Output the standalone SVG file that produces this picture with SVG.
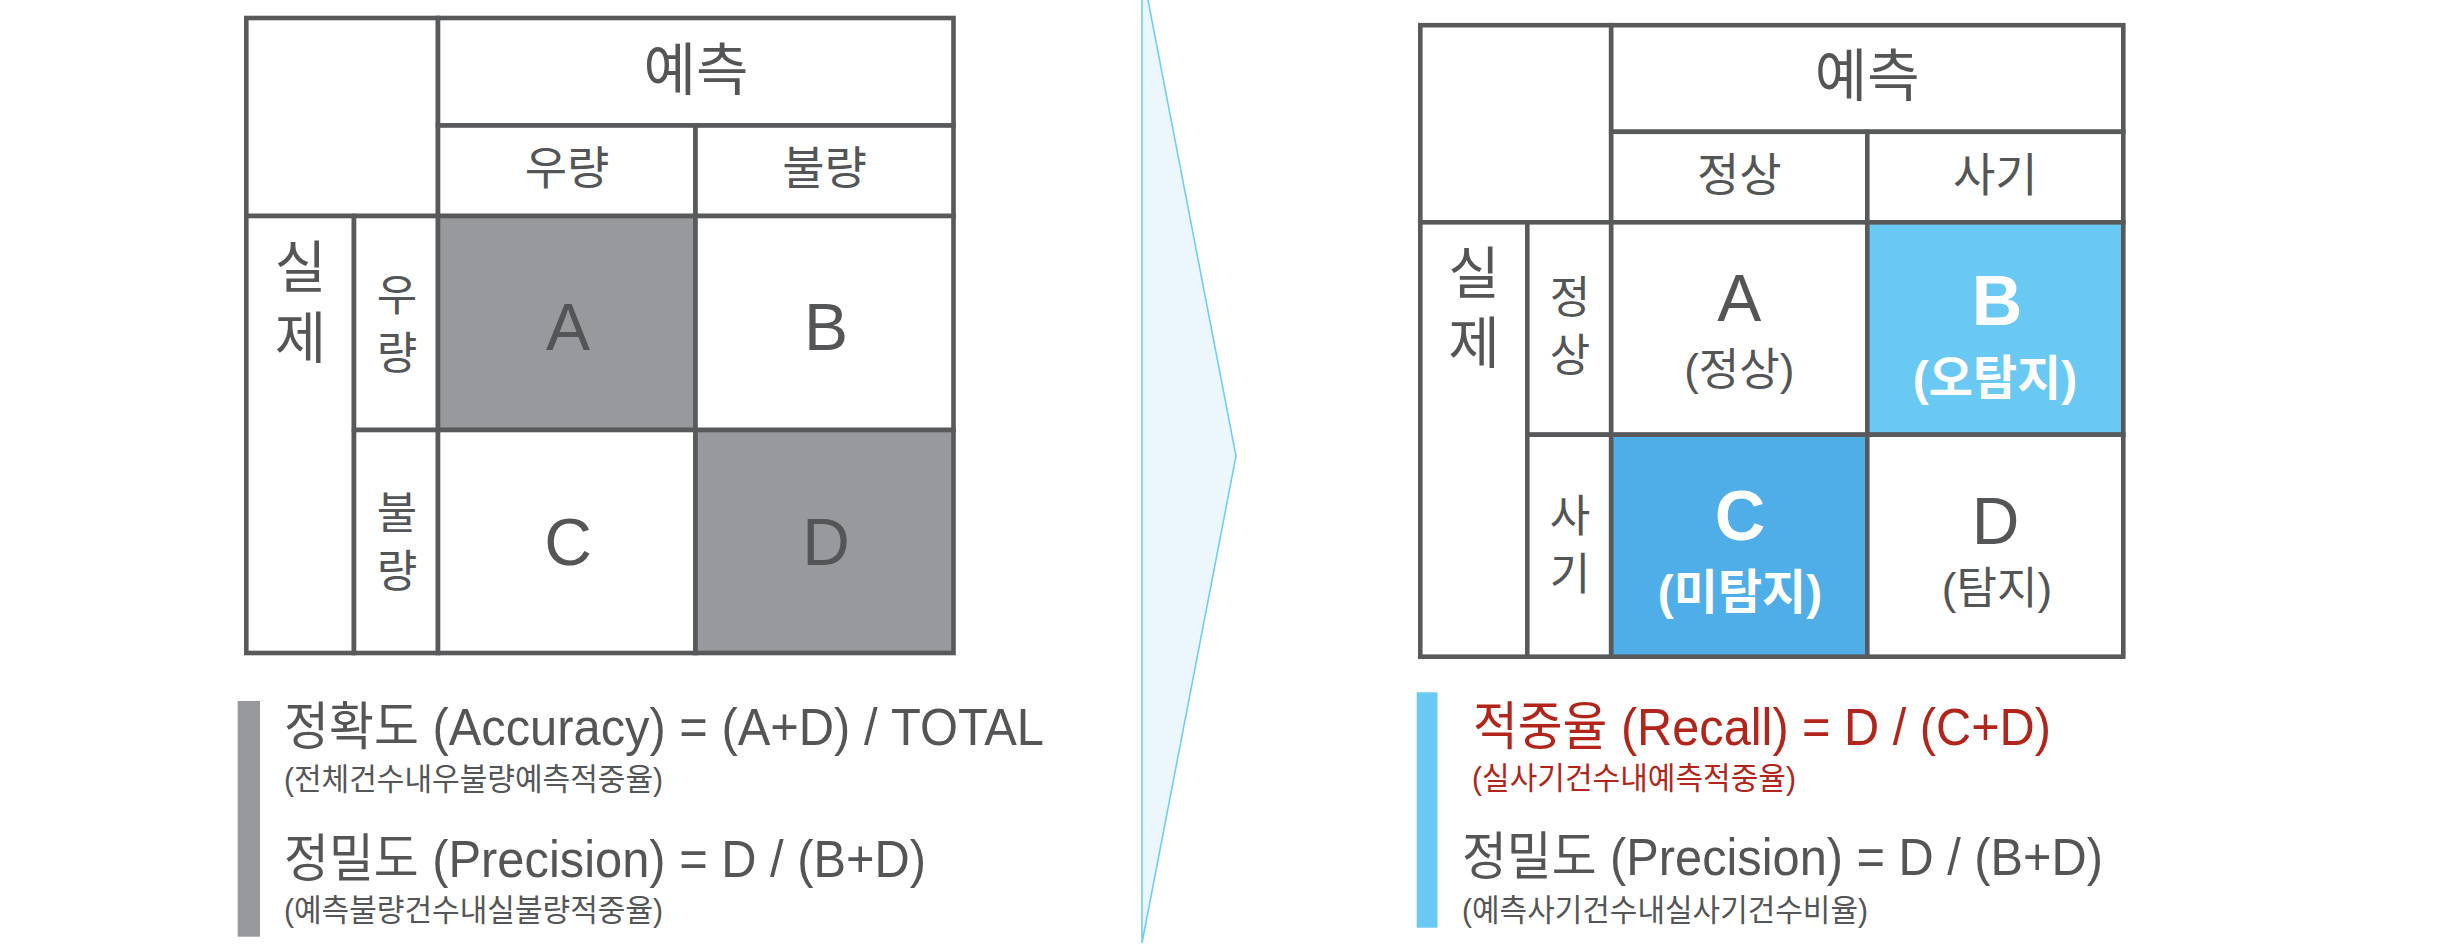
<svg xmlns="http://www.w3.org/2000/svg" width="2446" height="952" viewBox="0 0 2446 952">
<style>
.c{fill:#ffffff;stroke:#58595B;stroke-width:4.6}
.g{fill:#97999C;stroke:#58595B;stroke-width:4.6}
.lb{fill:#69C9F2;stroke:#58595B;stroke-width:4.6}
.db{fill:#4FADE7;stroke:#58595B;stroke-width:4.6}
text{font-family:"Liberation Sans","Noto Sans CJK KR",sans-serif;fill:#545557}
.hd{font-size:57px;text-anchor:middle}
.sub{font-size:46px;text-anchor:middle}
.rl{font-size:44px;text-anchor:middle}
.big{font-size:56px;text-anchor:middle}
.let{font-size:66px;text-anchor:middle}
.par{font-size:44px;text-anchor:middle}
.wb{fill:#ffffff;font-weight:bold;text-anchor:middle}
.f1{font-size:52px}
.f2{font-size:31px}
.red{fill:#B3251A}
</style>
<g id="connectors">
<polygon points="1142,-31 1236,456 1142,943" fill="#ECF7FD" stroke="#6FCDF4" stroke-width="1.6"/>
</g>
<g id="left-matrix">
<g id="l-corner"><rect class="c" x="246.3" y="18" width="191.7" height="198"/></g>
<g id="l-pred"><rect class="c" x="438" y="18" width="515.5" height="107.5"/><text class="hd" x="696" y="90">예측</text></g>
<g id="l-col-good"><rect class="c" x="438" y="125.5" width="257.5" height="90.5"/><text class="sub" x="567" y="184">우량</text></g>
<g id="l-col-bad"><rect class="c" x="695.5" y="125.5" width="258" height="90.5"/><text class="sub" x="824.5" y="184">불량</text></g>
<g id="l-actual"><rect class="c" x="246.3" y="216" width="107.7" height="437"/><text class="big" x="300.5" y="287">실</text><text class="big" x="300.5" y="358">제</text></g>
<g id="l-row-good"><rect class="c" x="354" y="216" width="84" height="214"/><text class="rl" x="397" y="311">우</text><text class="rl" x="397" y="369">량</text></g>
<g id="l-row-bad"><rect class="c" x="354" y="430" width="84" height="223"/><text class="rl" x="397" y="529">불</text><text class="rl" x="397" y="587">량</text></g>
<g id="l-A"><rect class="g" x="438" y="216" width="257.5" height="214"/><text class="let" x="568" y="350">A</text></g>
<g id="l-B"><rect class="c" x="695.5" y="216" width="258" height="214"/><text class="let" x="826" y="350">B</text></g>
<g id="l-C"><rect class="c" x="438" y="430" width="257.5" height="223"/><text class="let" x="568" y="565">C</text></g>
<g id="l-D"><rect class="g" x="695.5" y="430" width="258" height="223"/><text class="let" x="826" y="565">D</text></g>
</g>
<g id="right-matrix">
<g id="r-corner"><rect class="c" x="1420.3" y="25.2" width="190.9" height="197.1"/></g>
<g id="r-pred"><rect class="c" x="1611.2" y="25.2" width="512.1" height="106.6"/><text class="hd" x="1867.3" y="96">예측</text></g>
<g id="r-col-normal"><rect class="c" x="1611.2" y="131.8" width="256.1" height="90.5"/><text class="sub" x="1739.3" y="191">정상</text></g>
<g id="r-col-fraud"><rect class="c" x="1867.3" y="131.8" width="256" height="90.5"/><text class="sub" x="1995.3" y="191">사기</text></g>
<g id="r-actual"><rect class="c" x="1420.3" y="222.3" width="107" height="434.4"/><text class="big" x="1474" y="293">실</text><text class="big" x="1474" y="363">제</text></g>
<g id="r-row-normal"><rect class="c" x="1527.3" y="222.3" width="83.9" height="212.4"/><text class="rl" x="1570" y="313">정</text><text class="rl" x="1570" y="371">상</text></g>
<g id="r-row-fraud"><rect class="c" x="1527.3" y="434.7" width="83.9" height="222"/><text class="rl" x="1570" y="532">사</text><text class="rl" x="1570" y="590">기</text></g>
<g id="r-A"><rect class="c" x="1611.2" y="222.3" width="256.1" height="212.4"/><text class="let" x="1739.3" y="321">A</text><text class="par" x="1739.3" y="385">(정상)</text></g>
<g id="r-B"><rect class="lb" x="1867.3" y="222.3" width="256" height="212.4"/><text class="wb" x="1997" y="325" font-size="70">B</text><text class="wb" x="1995" y="395" font-size="48">(오탐지)</text></g>
<g id="r-C"><rect class="db" x="1611.2" y="434.7" width="256.1" height="222"/><text class="wb" x="1740" y="540" font-size="70">C</text><text class="wb" x="1740" y="609" font-size="48">(미탐지)</text></g>
<g id="r-D"><rect class="c" x="1867.3" y="434.7" width="256" height="222"/><text class="let" x="1995.5" y="544">D</text><text class="par" x="1997" y="604">(탐지)</text></g>
</g>
<g id="left-formulas">
<rect x="237.7" y="701" width="22.3" height="235.7" fill="#97999C"/>
<text class="f1" x="284" y="745" textLength="760" lengthAdjust="spacingAndGlyphs">정확도 (Accuracy) = (A+D) / TOTAL</text>
<text class="f2" x="284" y="790" textLength="379" lengthAdjust="spacingAndGlyphs">(전체건수내우불량예측적중율)</text>
<text class="f1" x="284" y="877" textLength="642" lengthAdjust="spacingAndGlyphs">정밀도 (Precision) = D / (B+D)</text>
<text class="f2" x="284" y="921" textLength="379" lengthAdjust="spacingAndGlyphs">(예측불량건수내실불량적중율)</text>
</g>
<g id="right-formulas">
<rect x="1416.7" y="692.3" width="20.8" height="235.4" fill="#69C9F2"/>
<text class="f1 red" x="1473" y="745" textLength="578" lengthAdjust="spacingAndGlyphs">적중율 (Recall) = D / (C+D)</text>
<text class="f2 red" x="1472" y="789" textLength="324" lengthAdjust="spacingAndGlyphs">(실사기건수내예측적중율)</text>
<text class="f1" x="1462" y="875" textLength="641" lengthAdjust="spacingAndGlyphs">정밀도 (Precision) = D / (B+D)</text>
<text class="f2" x="1462" y="921" textLength="406" lengthAdjust="spacingAndGlyphs">(예측사기건수내실사기건수비율)</text>
</g>
</svg>
